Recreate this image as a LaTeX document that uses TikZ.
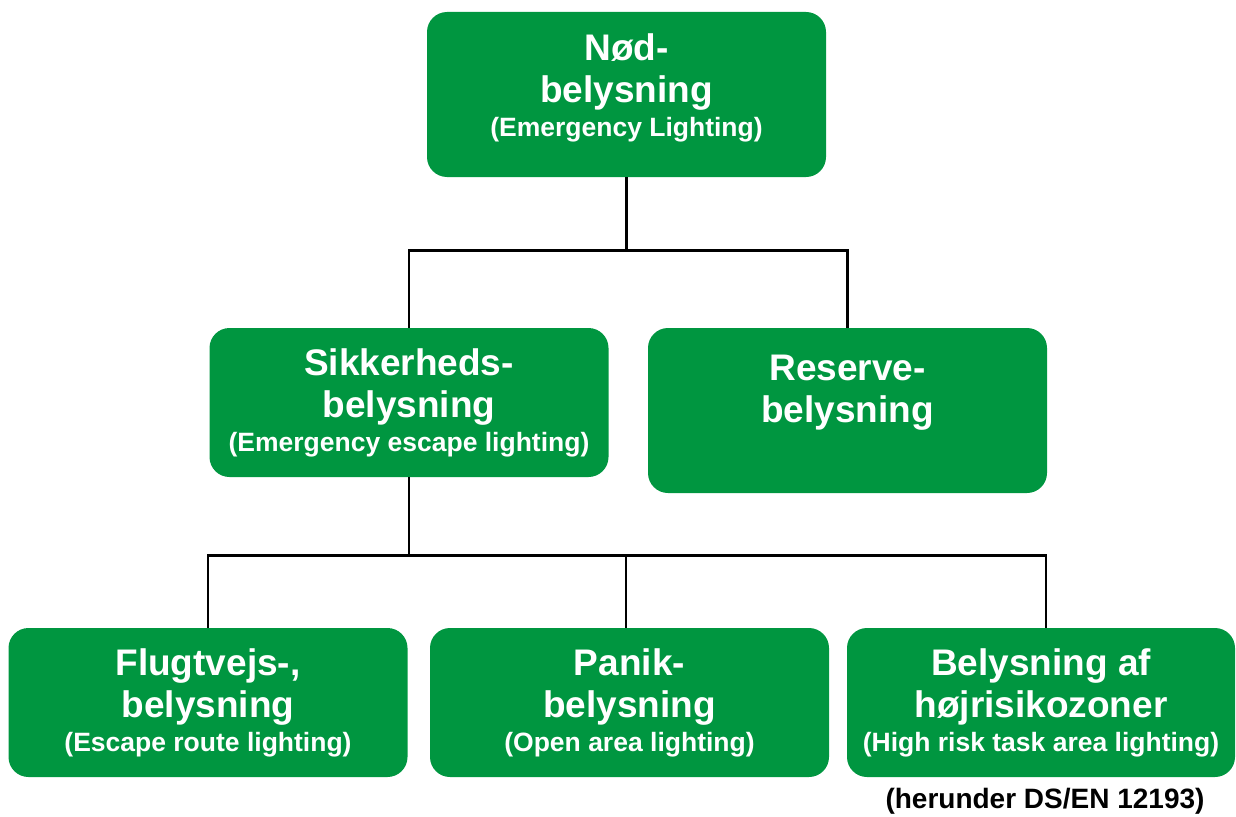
\documentclass[tikz,border=0pt]{standalone}
\usepackage{fontspec}
\setmainfont{Liberation Sans}
\usepackage{xcolor}
\usetikzlibrary{positioning}
\definecolor{nodgreen}{RGB}{0,150,64}
\tikzset{
  box/.style={fill=nodgreen, rounded corners=20pt, text=white, align=center,
    inner sep=0pt, minimum width=399pt, minimum height=149pt,
    font=\bfseries\fontsize{37}{42}\selectfont},
  tall/.style={minimum height=165pt},
  lift/.style={text depth=18pt},
  wire/.style={line width=2.6pt, black},
}
\newcommand{\engl}[1]{{\fontsize{26.5}{30}\selectfont #1}}

\begin{document}
\begin{tikzpicture}[x=1pt,y=-1pt]
\useasboundingbox (0,0) rectangle (1236,816);
%%the boxes, top to bottom
\node[box,tall,lift] (nod) at (626.5,94.5) {Nød-\\belysning\\[-8pt]\engl{(Emergency Lighting)}};
\node[box] (sik) at (409,402.5) {Sikkerheds-\\belysning\\[-8pt]\engl{(Emergency escape lighting)}};
\node[box,tall] (res) at (847.5,410.5) {Reserve-\\belysning\\[-8pt]\engl{\strut}};
\node[box] (flugt) at (208,702.5) {Flugtvejs-,\\belysning\\[-8pt]\engl{(Escape route lighting)}};
\node[box] (panik) at (629.5,702.5) {Panik-\\belysning\\[-8pt]\engl{(Open area lighting)}};
\node[box,minimum width=388pt] (hoj) at (1041,702.5) {Belysning af\\højrisikozoner\\[-8pt]\engl{(High risk task area lighting)}};
%%the note under the last box
\node[font=\bfseries\fontsize{28}{32}\selectfont] (note) at (1045,801) {(herunder DS/EN 12193)};
%%Now for the lines
\path (nod.south) ++(0,73) coordinate (j1);
\draw[wire] (nod.south) -- (j1);
\draw[wire] (sik.north) |- (j1) -| (res.north);
\path (sik.south) ++(0,78) coordinate (j2);
\draw[wire] (sik.south) -- (j2);
\draw[wire] (flugt.north) |- (j2) -| ([xshift=5pt]hoj.north);
\draw[wire] ([xshift=-3.5pt]panik.north) -- ([xshift=-3.5pt]panik.north |- j2);
\end{tikzpicture}
\end{document}
